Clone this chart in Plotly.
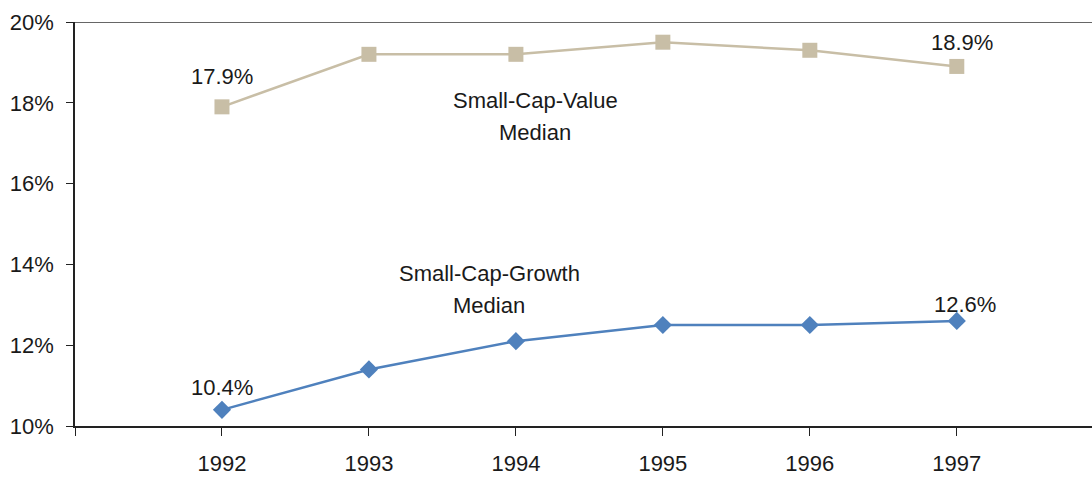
import plotly.graph_objects as go

years = ["1992", "1993", "1994", "1995", "1996", "1997"]
value_median = [17.9, 19.2, 19.2, 19.5, 19.3, 18.9]
growth_median = [10.4, 11.4, 12.1, 12.5, 12.5, 12.6]
y_ticks = [10, 12, 14, 16, 18, 20]

FONT = "Liberation Sans, Arial, sans-serif"
TXT = "#1a1a1a"
idx = list(range(len(years)))

fig = go.Figure()
fig.add_trace(go.Scatter(
    x=idx, y=value_median, mode="lines+markers",
    line=dict(color="#C8BEA6", width=2.5),
    marker=dict(symbol="square", size=15, color="#C8BEA6"),
    showlegend=False, cliponaxis=False))
fig.add_trace(go.Scatter(
    x=idx, y=growth_median, mode="lines+markers",
    line=dict(color="#4F81BD", width=2.5),
    marker=dict(symbol="diamond", size=14, color="#4F81BD"),
    showlegend=False, cliponaxis=False))

# data labels for first and last points (label offsets in pixels)
label_offsets = {
    (0, 0): (0, 30), (0, 1): (5, 24),
    (1, 0): (0, 22), (1, 1): (8, 16),
}
for s, series in enumerate((value_median, growth_median)):
    for j, i in enumerate((0, len(years) - 1)):
        dx, dy = label_offsets[(s, j)]
        fig.add_annotation(x=idx[i], y=series[i], text=f"{series[i]:.1f}%",
                           showarrow=False, xshift=dx, yshift=dy,
                           font=dict(family=FONT, size=22, color=TXT))

# series name labels (two lines each, Excel-like line spacing)
for (xc, yc, l1, l2) in [(2.13, 17.65, "Small-Cap-Value", "Median"),
                         (1.82, 13.39, "Small-Cap-Growth", "Median")]:
    fig.add_annotation(x=xc, y=yc, text=l1, showarrow=False, yshift=16,
                       font=dict(family=FONT, size=22, color=TXT))
    fig.add_annotation(x=xc, y=yc, text=l2, showarrow=False, yshift=-16,
                       font=dict(family=FONT, size=22, color=TXT))

# top border line
fig.add_shape(type="line", xref="paper", yref="y", x0=0, x1=1, y0=20, y1=20,
              line=dict(color="#333333", width=1.5))

fig.update_layout(
    width=1092, height=477,
    margin=dict(l=75, r=0, t=22, b=51, autoexpand=False),
    plot_bgcolor="white", paper_bgcolor="white",
    font=dict(family=FONT, size=22, color=TXT),
    xaxis=dict(range=[-1, 5.92], tickmode="array",
               tickvals=[-1] + idx, ticktext=[""] + years,
               showgrid=False, zeroline=False, automargin=False,
               showline=True, linecolor="#222222", linewidth=1.5,
               ticks="outside", ticklen=8, tickcolor="#222222", tickwidth=1.2,
               ticklabelstandoff=9),
    yaxis=dict(range=[10, 20], tickmode="array", tickvals=y_ticks,
               ticktext=[f"{v}%" for v in y_ticks],
               showgrid=False, zeroline=False, automargin=False,
               showline=True, linecolor="#222222", linewidth=1.5,
               ticks="outside", ticklen=7, tickcolor="#222222", tickwidth=1.2,
               ticklabelstandoff=8),
)

fig.write_html("out.html", config={"displayModeBar": False},
               post_script="document.body.style.margin='0';")
